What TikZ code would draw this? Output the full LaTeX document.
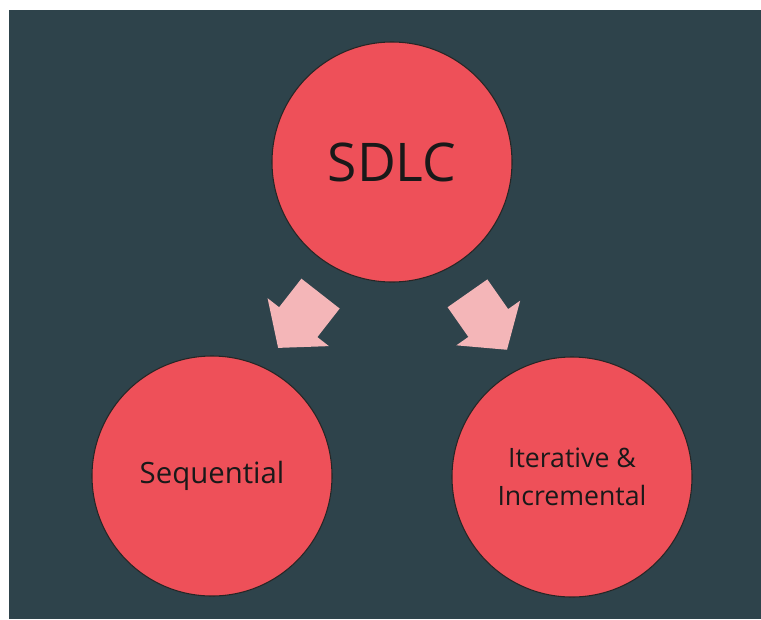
\documentclass[tikz,border=0pt]{standalone}
\usepackage{fontspec}
\setmainfont{Open Sans}
\usepackage{tikz}
\usetikzlibrary{shapes.arrows}
\usetikzlibrary{calc}

\definecolor{slate}{RGB}{46,67,75}
\definecolor{coral}{RGB}{238,80,89}
\definecolor{blush}{RGB}{244,182,184}

\begin{document}
\begin{tikzpicture}[x=0.75pt,y=-0.75pt]
\tikzset{phase/.style = {shape=circle,draw=black!85,line width=0.8pt,fill=coral,minimum size=180pt,inner sep=0pt,align=center,text=black!90}}
\tikzset{flow/.style = {single arrow,fill=blush,inner sep=18pt,minimum height=43pt,single arrow head extend=11pt,single arrow tip angle=100}}
\useasboundingbox (0,0) rectangle (761,619);
\fill[slate] (9,10) rectangle (761,619);
\node[phase,font=\fontsize{40}{48}\selectfont](sdlc) at (392,162) {SDLC};
\node[phase,font=\fontsize{22}{26}\selectfont](seq) at (212,476) {Sequential};
\node[phase,font=\fontsize{20}{29}\selectfont](iter) at (572,477) {Iterative \&\\Incremental};
\node[flow,rotate=-128](toseq) at ($(sdlc)!0.48!(seq)$) {};
\node[flow,rotate=-55](toiter) at ($(sdlc)!0.48!(iter)+(3,0)$) {};
\end{tikzpicture}
\end{document}
